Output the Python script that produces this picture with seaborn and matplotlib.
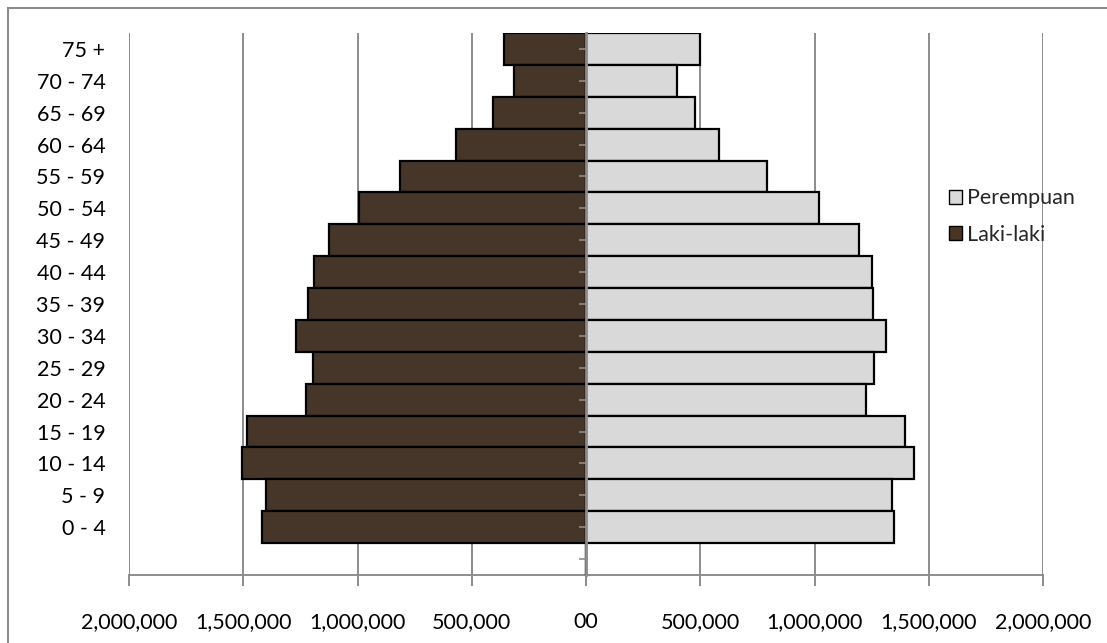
import seaborn as sns
import matplotlib.pyplot as plt
import matplotlib.patches as mpatches
from matplotlib.ticker import FuncFormatter
import pandas as pd

# age groups from the top of the pyramid down, plus Excel's empty row at the bottom
age_groups = ['75 +', '70 - 74', '65 - 69', '60 - 64', '55 - 59', '50 - 54',
              '45 - 49', '40 - 44', '35 - 39', '30 - 34', '25 - 29', '20 - 24',
              '15 - 19', '10 - 14', '5 - 9', '0 - 4', '']
laki_laki = [360000, 315000, 405000, 570000, 815000, 995000, 1125000, 1190000,
             1215000, 1270000, 1195000, 1225000, 1485000, 1505000, 1400000,
             1420000, 0]
perempuan = [500000, 400000, 478000, 583000, 790000, 1020000, 1195000, 1250000,
             1258000, 1313000, 1260000, 1225000, 1396000, 1435000, 1339000,
             1348000, 0]
x_ticks = [-2000000, -1500000, -1000000, -500000, 0, 500000, 1000000,
           1500000, 2000000]

df = pd.DataFrame({
    'Umur': age_groups * 2,
    'Jumlah': [-v for v in laki_laki] + perempuan,
    'Jenis': ['Laki-laki'] * len(age_groups) + ['Perempuan'] * len(age_groups),
})

sns.set_theme(style='white')
plt.rcParams['font.family'] = ['Lato', 'DejaVu Sans']
FS = 15.5
BROWN = '#4a3524'
GREY = '#d9d9d9'
LINE = '#8c8c8c'

fig = plt.figure(figsize=(11.07, 6.43), dpi=100)
ax = fig.add_axes([129 / 1107, 1 - 575 / 643, (1043 - 129) / 1107, (575 - 33) / 643])

sns.barplot(data=df, x='Jumlah', y='Umur', hue='Jenis', order=age_groups,
            hue_order=['Laki-laki', 'Perempuan'], palette=[BROWN, GREY],
            dodge=False, width=1.0, edgecolor='black', linewidth=1.6,
            orient='h', legend=False, ax=ax, zorder=3)

ax.set_xlim(-2000000, 2000000)
ax.set_ylim(len(age_groups) - 0.5, -0.5)
ax.set_xticks(x_ticks)
ax.xaxis.set_major_formatter(FuncFormatter(
    lambda v, p: '00' if v == 0 else f'{abs(int(v)):,}'))
ax.grid(axis='x', color=LINE, linewidth=1.4, zorder=0)
ax.set_axisbelow(True)
ax.set_xlabel('')
ax.set_ylabel('')

for s in ['top', 'right', 'left']:
    ax.spines[s].set_visible(False)
ax.spines['bottom'].set_color(LINE)
ax.spines['bottom'].set_linewidth(1.4)
ax.tick_params(axis='x', bottom=True, length=8, width=1.4, color=LINE,
               pad=19, labelsize=FS, labelcolor='black')
ax.tick_params(axis='y', left=False, length=0, pad=17, labelsize=FS,
               labelcolor='black')

# centre axis line with its little ticks pointing left
ax2 = ax.twinx()
ax2.set_ylim(ax.get_ylim())
ax2.set_yticks(range(len(age_groups)))
ax2.set_yticklabels([])
for s in ['top', 'left', 'bottom']:
    ax2.spines[s].set_visible(False)
ax2.spines['right'].set_position(('data', 0))
ax2.spines['right'].set_color(LINE)
ax2.spines['right'].set_linewidth(2)
ax2.spines['right'].set_zorder(5)
ax2.tick_params(axis='y', direction='in', length=5, width=1.2, color=LINE)

handles = [mpatches.Patch(facecolor=GREY, edgecolor='black', label='Perempuan'),
           mpatches.Patch(facecolor=BROWN, edgecolor='black', label='Laki-laki')]
fig.legend(handles=handles, loc='upper left', bbox_to_anchor=(930 / 1107, 1 - 169 / 643),
           frameon=False, fontsize=FS, handlelength=0.6, handleheight=0.6,
           handletextpad=0.2, labelspacing=0.75)

# chart-area border (only top and left edges fall inside the image)
fig.patches.append(mpatches.Rectangle((8 / 1107, -0.05), 1.05, 1.05 - 8 / 643,
                                      transform=fig.transFigure, fill=False,
                                      edgecolor=LINE, linewidth=1.5))

fig.savefig('out.png', dpi=100)
